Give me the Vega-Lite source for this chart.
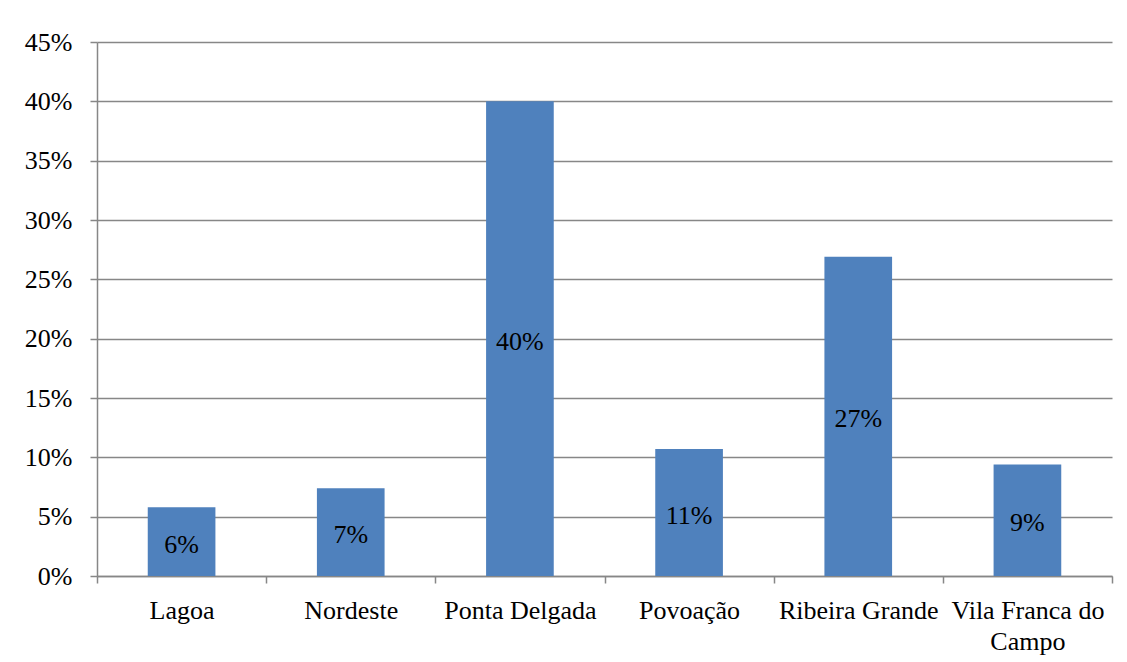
{
  "$schema": "https://vega.github.io/schema/vega-lite/v6.json",
  "width": 1015,
  "height": 534,
  "autosize": {"type": "none"},
  "padding": {"left": 97, "top": 42, "right": 15, "bottom": 86},
  "background": "white",
  "config": {
    "view": {"stroke": null},
    "font": "Liberation Serif",
    "axis": {
      "labelFont": "Liberation Serif",
      "labelFontSize": 26,
      "labelColor": "#000000",
      "domainColor": "#878787",
      "tickColor": "#878787",
      "gridColor": "#878787",
      "domainWidth": 1.5,
      "tickWidth": 1.5,
      "gridWidth": 1.5,
      "tickSize": 7,
      "title": null
    }
  },
  "data": {
    "values": [
      {"region": "Lagoa", "share": 0.058},
      {"region": "Nordeste", "share": 0.074},
      {"region": "Ponta Delgada", "share": 0.400},
      {"region": "Povoação", "share": 0.107},
      {"region": "Ribeira Grande", "share": 0.269},
      {"region": "Vila Franca do Campo", "share": 0.094}
    ]
  },
  "encoding": {
    "x": {
      "field": "region",
      "type": "nominal",
      "sort": null,
      "scale": {"paddingInner": 0, "paddingOuter": 0},
      "axis": {
        "labelAngle": 0,
        "tickBand": "extent",
        "grid": false,
        "labelPadding": 14,
        "labelLineHeight": 31,
        "labelExpr": "datum.value == 'Vila Franca do Campo' ? ['Vila Franca do', 'Campo'] : datum.value"
      }
    }
  },
  "layer": [
    {
      "mark": {"type": "bar", "color": "#4F81BD", "width": {"band": 0.4}},
      "encoding": {
        "y": {
          "field": "share",
          "type": "quantitative",
          "scale": {"domain": [0, 0.45]},
          "axis": {
            "values": [0, 0.05, 0.1, 0.15, 0.2, 0.25, 0.3, 0.35, 0.4, 0.45],
            "format": ".0%",
            "grid": true,
            "labelPadding": 18
          }
        }
      }
    },
    {
      "mark": {"type": "text", "fontSize": 26, "color": "#000000", "font": "Liberation Serif", "baseline": "middle", "dy": 3},
      "encoding": {
        "y": {"field": "share", "type": "quantitative", "scale": {"domain": [0, 0.9]}, "axis": null},
        "text": {"field": "share", "type": "quantitative", "format": ".0%"}
      }
    }
  ],
  "resolve": {"scale": {"y": "independent"}}
}
